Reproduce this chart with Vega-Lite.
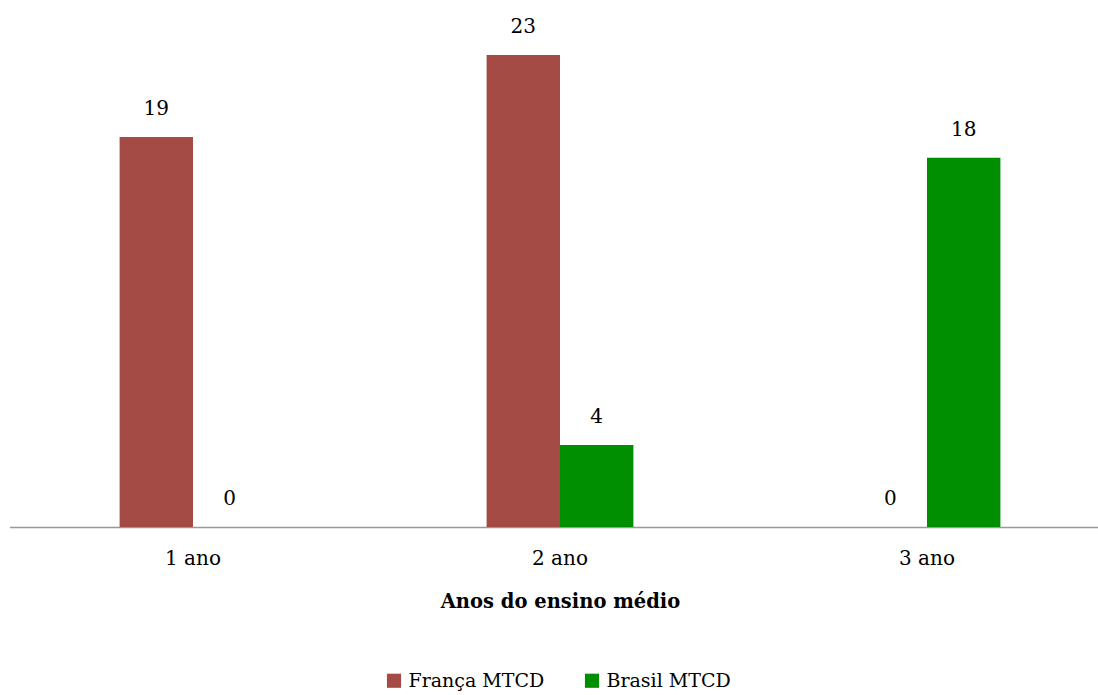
{
  "$schema": "https://vega.github.io/schema/vega-lite/v6.json",
  "width": 1101,
  "height": 513,
  "padding": {"left": 9.5, "top": 14, "right": 0, "bottom": 0},
  "autosize": {"type": "pad"},
  "background": "white",
  "config": {
    "view": {"stroke": null},
    "font": "DejaVu Serif"
  },
  "data": {
    "values": [
      {"ano": "1 ano", "serie": "França MTCD", "valor": 19},
      {"ano": "1 ano", "serie": "Brasil MTCD", "valor": 0},
      {"ano": "2 ano", "serie": "França MTCD", "valor": 23},
      {"ano": "2 ano", "serie": "Brasil MTCD", "valor": 4},
      {"ano": "3 ano", "serie": "França MTCD", "valor": 0},
      {"ano": "3 ano", "serie": "Brasil MTCD", "valor": 18}
    ]
  },
  "encoding": {
    "x": {
      "field": "ano", "type": "nominal",
      "scale": {"paddingInner": 0, "paddingOuter": 0},
      "axis": {
        "title": "Anos do ensino médio",
        "titleFont": "DejaVu Serif",
        "titleFontSize": 19.5,
        "titleFontWeight": "bold",
        "titleColor": "black",
        "titlePadding": 24,
        "labelAngle": 0,
        "labelFont": "DejaVu Serif",
        "labelFontSize": 20,
        "labelColor": "black",
        "labelPadding": 21,
        "ticks": false,
        "tickSize": 0,
        "domainColor": "#999999",
        "domainWidth": 1.5
      }
    },
    "xOffset": {
      "field": "serie", "type": "nominal",
      "scale": {"domain": ["padA", "França MTCD", "Brasil MTCD", "padB"], "paddingInner": 0, "paddingOuter": 0.5}
    },
    "y": {
      "field": "valor", "type": "quantitative",
      "scale": {"domain": [0, 25], "nice": false},
      "axis": null
    }
  },
  "layer": [
    {
      "mark": {"type": "bar"},
      "encoding": {
        "color": {
          "field": "serie", "type": "nominal",
          "scale": {"domain": ["França MTCD", "Brasil MTCD"], "range": ["#A54B45", "#008F00"]},
          "legend": {
            "title": null,
            "orient": "none",
            "legendX": 375,
            "legendY": 657,
            "direction": "horizontal",
            "symbolType": "square",
            "symbolSize": 200,
            "symbolStrokeWidth": 0,
            "labelFont": "DejaVu Serif",
            "labelFontSize": 19,
            "labelColor": "black",
            "labelOffset": 5,
            "columnPadding": 38
          }
        }
      }
    },
    {
      "mark": {"type": "text", "baseline": "alphabetic", "dy": -22, "fontSize": 20, "font": "DejaVu Serif", "color": "black"},
      "encoding": {
        "text": {"field": "valor", "type": "quantitative"}
      }
    }
  ]
}
